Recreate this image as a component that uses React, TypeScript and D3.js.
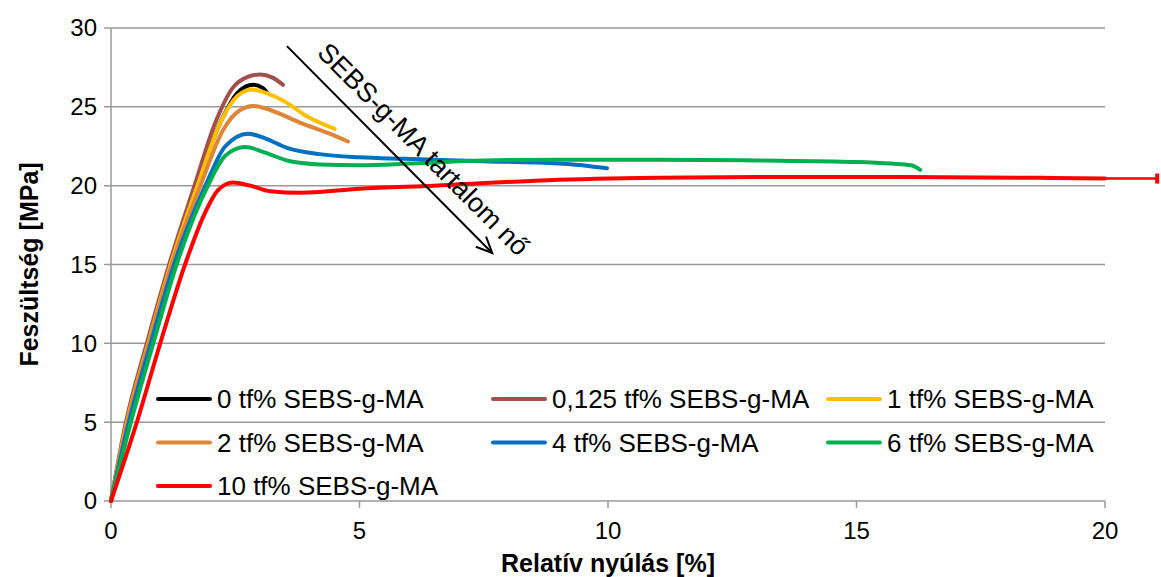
import { useEffect } from "react";
import * as d3 from "d3";

type Pt = [number, number];

const xTicks = [0, 5, 10, 15, 20];
const yTicks = [0, 5, 10, 15, 20, 25, 30];

const seriesNames = [
  "0 tf% SEBS-g-MA",
  "0,125 tf% SEBS-g-MA",
  "1 tf% SEBS-g-MA",
  "2 tf% SEBS-g-MA",
  "4 tf% SEBS-g-MA",
  "6 tf% SEBS-g-MA",
  "10 tf% SEBS-g-MA",
];
const seriesColors = ["#000000", "#A34F4C", "#FFC000", "#DE8537", "#0070C0", "#00B050", "#FF0000"];

const s0: Pt[] = [[0, 0], [0.32, 5], [0.74, 10], [1.19, 15], [1.72, 20], [2.2, 24], [2.55, 25.9], [2.86, 26.4], [3.05, 26.2], [3.14, 25.9]];
const s0125: Pt[] = [[0, 0], [0.3, 5], [0.72, 10], [1.17, 15], [1.68, 20], [2.1, 24], [2.45, 26.2], [2.75, 26.9], [3.0, 27.05], [3.25, 26.85], [3.46, 26.4]];
const s1: Pt[] = [[0, 0], [0.32, 5], [0.75, 10], [1.2, 15], [1.74, 20], [2.2, 24], [2.55, 25.7], [2.84, 26.1], [3.1, 25.9], [3.46, 25.4], [3.94, 24.4], [4.5, 23.6]];
const s2: Pt[] = [[0, 0], [0.33, 5], [0.76, 10], [1.22, 15], [1.8, 20], [2.25, 23.5], [2.6, 24.8], [2.86, 25.05], [3.2, 24.8], [3.8, 24.0], [4.4, 23.3], [4.77, 22.8]];
const s4: Pt[] = [[0, 0], [0.36, 5], [0.8, 10], [1.27, 15], [1.9, 20], [2.3, 22.5], [2.76, 23.3], [3.1, 23.0], [3.54, 22.4], [4.2, 22.0], [5.0, 21.8], [5.9, 21.7], [7.5, 21.55], [9.0, 21.4], [9.6, 21.25], [9.98, 21.1]];
const s6: Pt[] = [[0, 0], [0.4, 5], [0.85, 10], [1.32, 15], [1.95, 20], [2.3, 21.9], [2.7, 22.45], [3.1, 22.1], [3.54, 21.6], [4.2, 21.35], [5.0, 21.3], [6.0, 21.4], [7.5, 21.6], [9.0, 21.65], [11, 21.65], [13, 21.6], [15, 21.5], [15.7, 21.4], [16.1, 21.3], [16.28, 21.0]];
const s10: Pt[] = [[0, 0], [0.52, 5], [0.99, 10], [1.49, 15], [1.88, 18.2], [2.15, 19.7], [2.45, 20.2], [2.8, 20.0], [3.2, 19.65], [3.8, 19.55], [5.0, 19.8], [6.5, 20.0], [8.8, 20.35], [11, 20.5], [13, 20.55], [16, 20.55], [18.7, 20.5], [20, 20.45]];
const s10Overflow: Pt[] = [[20, 20.45], [21.05, 20.45]];

const seriesData = [s0, s0125, s1, s2, s4, s6, s10];

const arrowFrom: Pt = [3.54, 28.85];
const arrowTo: Pt = [7.67, 15.73];
const arrowLabel = "SEBS-g-MA tartalom nő";

const W = 1161;
const H = 577;

export default function App() {
  useEffect(() => {
    document.body.style.margin = "0";
  }, []);

  const x = d3.scaleLinear().domain([0, 20]).range([111, 1105]);
  const y = d3.scaleLinear().domain([0, 30]).range([501, 28]);
  const line = d3
    .line<Pt>()
    .x((d) => x(d[0]))
    .y((d) => y(d[1]))
    .curve(d3.curveMonotoneX);

  const font = "Liberation Sans, Arial, sans-serif";
  const grid = "#999999";

  const ax1 = x(arrowFrom[0]);
  const ay1 = y(arrowFrom[1]);
  const ax2 = x(arrowTo[0]);
  const ay2 = y(arrowTo[1]);
  const ang = Math.atan2(ay2 - ay1, ax2 - ax1);
  const ux = Math.cos(ang);
  const uy = Math.sin(ang);
  const nx = Math.sin(ang);
  const ny = -Math.cos(ang);
  const head = 16;
  const hw = 0.45;
  const tx = ax1 + 26 * ux + 15 * nx;
  const ty = ay1 + 26 * uy + 15 * ny;

  const ovEnd = s10Overflow[s10Overflow.length - 1];

  return (
    <svg width={W} height={H} style={{ display: "block", background: "#fff" }}>
      {yTicks.map((t) => (
        <g key={"y" + t}>
          <line x1={x(0) - 7} x2={x(20)} y1={y(t)} y2={y(t)} stroke={grid} strokeWidth={1.5} />
          <text x={97} y={y(t)} dy="0.35em" textAnchor="end" fontFamily={font} fontSize={24} fill="#000">
            {t}
          </text>
        </g>
      ))}
      <line x1={x(0)} x2={x(0)} y1={y(30)} y2={y(0)} stroke={grid} strokeWidth={1.5} />
      {xTicks.map((t) => (
        <g key={"x" + t}>
          <line x1={x(t)} x2={x(t)} y1={y(0)} y2={y(0) + 7} stroke={grid} strokeWidth={1.5} />
          <text x={x(t)} y={y(0) + 30} dy="0.35em" textAnchor="middle" fontFamily={font} fontSize={24} fill="#000">
            {t}
          </text>
        </g>
      ))}
      <text x={(x(0) + x(20)) / 2} y={563} dy="0.35em" textAnchor="middle" fontFamily={font} fontSize={25} fontWeight="bold">
        Relatív nyúlás [%]
      </text>
      <text
        transform={`translate(29,${(y(0) + y(30)) / 2}) rotate(-90)`}
        textAnchor="middle"
        dy="0.35em"
        fontFamily={font}
        fontSize={25}
        fontWeight="bold"
      >
        Feszültség [MPa]
      </text>

      {seriesData.map((d, i) => (
        <path key={seriesNames[i]} d={line(d) || ""} fill="none" stroke={seriesColors[i]} strokeWidth={4} strokeLinecap="round" strokeLinejoin="round" />
      ))}
      <path d={line(s10Overflow) || ""} fill="none" stroke={seriesColors[6]} strokeWidth={2.5} />
      <line x1={x(ovEnd[0])} x2={x(ovEnd[0])} y1={y(ovEnd[1]) - 5} y2={y(ovEnd[1]) + 5} stroke={seriesColors[6]} strokeWidth={4} />

      <line x1={ax1} y1={ay1} x2={ax2} y2={ay2} stroke="#000" strokeWidth={2} />
      <polyline
        points={`${ax2 - head * (ux - hw * nx)},${ay2 - head * (uy - hw * ny)} ${ax2},${ay2} ${ax2 - head * (ux + hw * nx)},${ay2 - head * (uy + hw * ny)}`}
        fill="none"
        stroke="#000"
        strokeWidth={2}
      />
      <text transform={`translate(${tx},${ty}) rotate(${(ang * 180) / Math.PI})`} fontFamily={font} fontSize={27} fill="#000">
        {arrowLabel}
      </text>

      {seriesNames.map((name, i) => {
        const col = i % 3;
        const row = Math.floor(i / 3);
        const lx = 158 + col * 335;
        const ly = 399 + row * 43.5;
        return (
          <g key={"lg" + name}>
            <line x1={lx} x2={lx + 52} y1={ly} y2={ly} stroke={seriesColors[i]} strokeWidth={4} strokeLinecap="round" />
            <text x={lx + 59} y={ly} dy="0.35em" fontFamily={font} fontSize={26} fill="#000">
              {name}
            </text>
          </g>
        );
      })}
    </svg>
  );
}
